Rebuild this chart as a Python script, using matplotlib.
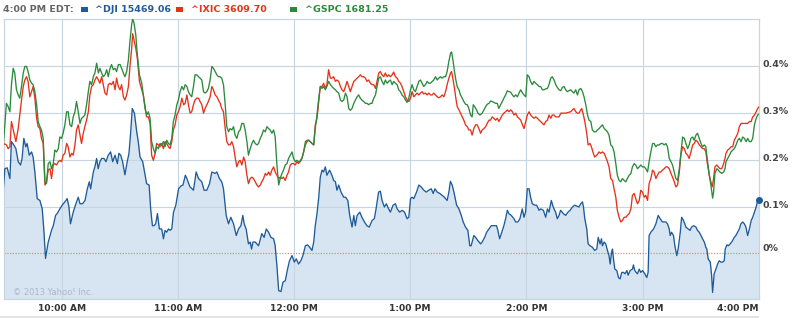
import matplotlib
matplotlib.use('Agg')
import matplotlib.pyplot as plt
from matplotlib.patches import Rectangle
import matplotlib.transforms as mtransforms

# ---------------- data (minutes after 9:30 ET, % change) ----------------
dji_t = [0, 0.7, 1.9, 3.3, 4.1, 5.3, 6.4, 7.6, 8.8, 9.6, 10.5, 11.5, 12.2, 13.3, 14.5, 15.3, 16.2,
         17.4, 18.8, 20.0, 20.8, 21.7, 23.1, 24.8, 25.7, 26.9, 27.7, 29.1, 30.3, 31.7, 32.9, 33.8,
         34.6, 36.0, 37.4, 38.6, 39.5, 40.8, 42.1, 43.3, 44.3, 45.0, 46.4, 47.2, 48.1, 48.9, 49.8,
         50.7, 51.9, 52.9, 54.1, 55.3, 56.4, 57.6, 58.8, 59.6, 60.5, 61.5, 62.7, 63.9, 64.8, 65.7,
         66.5, 67.6, 68.8, 69.6, 70.5, 71.9, 73.1, 73.9, 75.2, 76.0, 76.9, 77.7, 78.6, 79.5, 80.5,
         81.7, 82.6, 83.4, 84.3, 85.2, 86.0, 86.9, 87.8, 89.0, 90.4, 91.6, 92.7, 93.9, 94.7, 95.9,
         96.4, 98.1, 99.5, 100.7, 102.4, 103.6, 105.0, 106.4, 107.6, 109.3, 110.2, 111.5, 112.7,
         113.6, 115.0, 116.2, 117.4, 118.8, 120.2, 121.4, 122.6, 123.6, 124.3, 125.3, 126.5, 127.4,
         128.1, 128.8, 130.0, 131.7, 133.4, 134.6, 135.7, 136.9, 138.1, 139.5, 140.3, 141.2, 142.1,
         143.3, 144.3, 145.5, 146.7, 147.7, 149.0, 150.2, 151.2, 152.4, 153.6, 154.6, 155.9, 157.0,
         158.1, 159.3, 160.2, 161.0, 161.9, 162.8, 163.6, 164.5, 165.3, 166.2, 167.0, 168.4, 169.6,
         170.5, 171.4, 172.2, 173.1, 174.3, 175.7, 176.7, 177.8, 178.8, 179.5, 180.0, 180.9, 181.7,
         182.6, 184.0, 185.1, 186.4, 187.7, 188.9, 190.3, 191.5, 192.4, 193.7,
         194.6, 195.5, 196.7, 197.7, 198.9, 199.8, 201.2, 202.4, 203.3, 204.6, 205.9, 207.1, 208.4,
         209.3, 210.2, 211.0, 211.9, 213.3, 214.5, 215.7, 217.1, 218.3, 219.6, 220.9, 221.9, 222.8,
         224.0, 225.3, 226.5, 227.7, 229.1, 230.0, 230.8, 231.7, 232.6, 234.0, 235.2, 236.4, 237.4,
         238.6, 239.8, 240.8, 241.5, 242.9, 243.8, 245.0, 246.4, 247.2, 248.5, 249.5, 250.7, 251.9,
         253.3, 254.6, 255.3, 256.2, 257.1, 258.4, 259.3, 260.2, 261.0, 262.2, 263.6, 264.5, 265.6,
         266.7, 267.9, 268.8, 269.6, 270.5, 271.4, 272.2, 273.1, 274.3, 275.3, 276.6, 277.4, 278.8,
         280.0, 280.9, 281.7, 282.9, 283.9, 285.1, 286.0, 286.9, 287.7, 289.1, 290.3, 291.5, 292.6,
         293.8, 295.0, 296.0, 297.2, 298.1, 299.0, 299.5, 300.2, 301.2, 301.9, 302.9, 304.1, 305.3,
         306.4, 307.1, 308.1, 308.8, 309.3, 310.2, 311.0, 311.9, 312.7, 313.3, 314.0, 314.5, 315.0,
         315.7, 316.7, 317.6, 318.4, 319.3, 320.2, 321.0, 321.9, 322.6, 323.6, 324.8, 325.3, 326.0,
         326.7, 327.4, 328.3, 329.1, 330.0, 331.2, 332.2, 332.9, 333.4, 334.3, 335.7, 336.9, 338.1,
         339.1, 340.3, 342.1, 342.9, 343.8, 344.3, 345.0, 346.0, 346.7, 347.7, 348.4, 349.5, 350.2,
         351.2, 352.4, 353.6, 354.6, 355.3, 356.4, 357.6, 358.4, 359.3, 360.2, 361.0, 361.9, 362.7,
         363.2, 363.9, 365.0, 365.7, 366.2, 367.0, 367.9, 368.8, 369.6, 370.5, 371.4, 372.2, 372.7,
         373.6, 374.3, 375.3, 376.5, 377.4, 378.2, 379.1, 380.0, 380.8, 381.7, 382.6, 383.4, 384.3,
         385.2, 386.1, 386.9, 387.8, 388.7, 389.5, 390.0]
dji_pct = [0.142, 0.181, 0.183, 0.160, 0.239, 0.232, 0.224, 0.196, 0.189, 0.203, 0.246, 0.228, 0.235,
           0.210, 0.217, 0.206, 0.174, 0.117, 0.113, 0.095, 0.052, -0.011, 0.024, 0.049, 0.059, 0.081,
           0.085, 0.095, 0.103, 0.110, 0.117, 0.099, 0.063, 0.088, 0.106, 0.120, 0.106, 0.106, 0.113,
           0.138, 0.153, 0.138, 0.174, 0.185, 0.203, 0.181, 0.196, 0.203, 0.203, 0.196, 0.210, 0.217,
           0.196, 0.210, 0.192, 0.214, 0.210, 0.196, 0.168, 0.196, 0.214, 0.260, 0.310, 0.300, 0.260,
           0.239, 0.206, 0.196, 0.167, 0.149, 0.146, 0.095, 0.059, 0.059, 0.063, 0.085, 0.052, 0.052,
           0.031, 0.049, 0.045, 0.052, 0.049, 0.052, 0.088, 0.103, 0.138, 0.144, 0.146, 0.167, 0.160,
           0.146,
           0.142, 0.135, 0.174, 0.160, 0.153, 0.135, 0.135, 0.149, 0.174, 0.171, 0.174, 0.160, 0.153,
           0.138, 0.081, 0.063, 0.077, 0.063, 0.038, 0.052, 0.059, 0.081, 0.063, 0.052, 0.020, 0.024,
           0.009, 0.024, 0.024, 0.016, 0.042, 0.034, 0.052, 0.045, 0.034, 0.031, 0.016, -0.027, -0.080,
           -0.082, -0.062, -0.059, -0.034, -0.016, -0.005, -0.019, -0.012, -0.023, -0.016, -0.005, 0.016,
           0.018, 0.013, 0.006, 0.024, 0.059, 0.085, 0.120, 0.163, 0.178, 0.174, 0.185, 0.167, 0.178,
           0.167, 0.156, 0.153, 0.135, 0.146, 0.131, 0.120, 0.120, 0.113, 0.081, 0.067, 0.056, 0.081,
           0.059, 0.081, 0.088, 0.077, 0.067, 0.059, 0.056, 0.070, 0.074, 0.095, 0.131,
           0.133, 0.113, 0.099, 0.106, 0.095, 0.088, 0.103, 0.106, 0.095, 0.088, 0.092, 0.088, 0.074,
           0.077, 0.117, 0.120, 0.117, 0.131, 0.146, 0.142, 0.135, 0.131, 0.135, 0.138, 0.128, 0.138,
           0.131, 0.128, 0.124, 0.120, 0.113, 0.131, 0.154, 0.146, 0.131, 0.103, 0.095, 0.081, 0.067,
           0.056, 0.049, 0.016, 0.016, 0.038, 0.034, 0.027, 0.020, 0.024, 0.034, 0.045, 0.052, 0.059,
           0.059, 0.059, 0.049, 0.031, 0.042, 0.059, 0.074, 0.092, 0.085, 0.081, 0.074, 0.067, 0.067,
           0.074, 0.095, 0.077, 0.088, 0.138, 0.138, 0.120, 0.106, 0.103, 0.103, 0.092, 0.095, 0.092,
           0.077, 0.095, 0.088, 0.113, 0.099, 0.088, 0.074, 0.081, 0.092, 0.085, 0.081, 0.088, 0.092,
           0.099, 0.103, 0.101, 0.099, 0.106, 0.110, 0.099, 0.074, 0.052, 0.020, 0.016, 0.013, 0.006,
           0.009, 0.034, 0.020, 0.031, 0.016, 0.024, 0.020, 0.006, -0.005, -0.023, 0.002, 0.009, -0.012,
           -0.034, -0.037, -0.052, -0.055, -0.041, -0.041, -0.044, -0.037, -0.047, -0.037, -0.034, -0.025, -0.037,
           -0.041, -0.044, -0.034, -0.041, -0.037, -0.044, -0.052, -0.041, 0.038, 0.045, 0.052, 0.063, 0.081,
           0.074, 0.067, 0.067, 0.063, 0.052, 0.038, 0.045, 0.038, 0.016, -0.005, 0.009, 0.045, 0.077,
           0.070, 0.056, 0.052, 0.049, 0.056, 0.059, 0.056, 0.049, 0.045, 0.038, 0.031, 0.024, 0.013,
           0.009, -0.012, -0.019, -0.048, -0.084, -0.044, -0.034, -0.023, -0.016, -0.019, -0.019, -0.016, 0.009,
           0.018, 0.016, 0.020, 0.027, 0.034, 0.038, 0.045, 0.052, 0.063, 0.067, 0.063, 0.056, 0.038,
           0.052, 0.070, 0.077, 0.088, 0.099, 0.113, 0.113]

ixic_t = [0, 1.5, 2.4, 3.3, 4.1, 5.3, 6.4, 7.6, 8.4, 9.3, 10.2, 11.0, 11.9, 12.7, 13.6, 14.5, 15.3,
          16.2, 17.1, 17.9, 18.8, 19.6, 20.5, 21.4, 22.2, 23.1, 24.0, 24.8, 25.7, 26.5, 27.4, 28.3,
          29.1, 30.0, 30.8, 31.7, 32.6, 33.4, 34.3, 35.2, 36.0, 36.9, 37.7, 38.6, 39.5, 40.3, 41.2,
          42.0, 42.9, 43.8, 44.6, 45.5, 46.4, 47.2, 48.1, 49.0, 49.8, 50.7, 51.5, 52.4, 53.3, 54.1,
          55.0, 55.8, 56.7, 57.6, 58.4, 59.3, 60.2, 61.0, 61.9, 62.7, 63.6, 64.5, 65.3, 66.2, 66.7,
          67.4, 68.3, 69.1, 70.2, 71.4, 72.2, 73.1, 73.9, 74.8, 75.7, 76.5, 77.4, 78.3, 79.1, 80.0,
          80.8, 81.7, 82.6, 83.4, 84.3, 85.2, 86.0, 86.9, 87.7, 88.6, 89.5, 90.3, 91.2, 92.1, 93.0,
          93.8, 94.7, 95.5,
          96.4, 97.2, 98.1, 98.9, 99.8, 100.7, 101.5, 102.4, 103.3, 104.1, 105.0, 105.8, 106.7, 107.6,
          108.4, 109.3, 110.2, 111.0, 111.9, 112.7, 113.6, 114.5, 115.3, 116.2, 117.0, 117.9, 118.8,
          119.6, 120.5, 121.4, 122.2, 123.1, 124.0, 124.8, 125.7, 126.5, 127.4, 128.3, 129.1, 130.0,
          130.9, 131.7, 132.6, 133.4, 134.3, 135.2, 136.0, 136.9, 137.7, 138.6, 139.5, 140.3, 141.2,
          142.1, 142.9, 143.8, 144.6, 145.5, 146.4, 147.2, 148.1, 149.0, 149.8, 150.7, 151.5, 152.4,
          153.3, 154.1, 155.0, 155.9, 156.7, 157.6, 158.4, 159.3, 160.2, 161.0, 161.9, 162.8, 163.6,
          164.5, 165.3, 166.2, 167.0, 167.9, 168.8, 169.6, 170.5, 171.4, 172.2, 173.1, 174.0, 174.8,
          175.7, 176.6, 177.4, 178.3, 179.1, 180.0, 180.9, 181.7, 182.6, 183.4, 184.3, 185.1, 186.0,
          186.9, 187.7, 188.6, 189.5, 190.3, 191.2, 192.1, 192.9, 193.8,
          194.6, 195.5, 196.4, 197.2, 198.1, 198.9, 199.8, 200.7, 201.5, 202.4, 203.3, 204.1, 205.0,
          205.8, 206.7, 207.6, 208.4, 209.3, 210.2, 211.0, 211.9, 212.7, 213.6, 214.5, 215.3, 216.2,
          217.0, 217.9, 218.8, 219.6, 220.5, 221.4, 222.2, 223.1, 224.0, 224.8, 225.7, 226.5, 227.4,
          228.3, 229.1, 230.0, 230.9, 231.4, 232.2, 232.9, 233.6, 234.3, 235.2, 236.0, 236.9, 237.7,
          238.6, 239.5, 240.3, 241.2, 242.0, 242.9, 243.8, 244.6, 245.5, 246.4, 247.2, 248.1, 249.0,
          249.8, 250.7, 251.5, 252.4, 253.2, 254.1, 255.0, 255.8, 256.7, 257.6, 258.4, 259.3, 260.2,
          261.0, 261.9, 262.8, 263.6, 264.5, 265.4, 266.2, 267.1, 268.0, 268.8, 269.7, 270.5, 271.4,
          272.2, 273.1, 274.0, 274.8, 275.7, 276.6, 277.4, 278.3, 279.1, 280.0, 280.9, 281.7, 282.6,
          283.4, 284.3, 285.2, 286.0, 286.9, 287.8, 288.6, 289.5, 290.3, 291.2, 292.1,
          292.9, 293.8, 294.6, 295.5, 296.4, 297.2, 298.1, 298.6, 299.5, 300.2, 301.2, 301.9, 302.9,
          303.6, 304.6, 305.3, 306.4, 307.6, 308.4, 309.3, 310.2, 311.0, 311.9, 312.7, 313.6, 314.5,
          315.3, 316.2, 317.0, 317.9, 318.8, 319.6, 320.5, 321.4, 322.2, 323.1, 324.0, 324.8, 325.7,
          326.5, 327.4, 328.3, 329.1, 330.0, 330.9, 331.7, 332.6, 333.4, 334.3, 335.2, 336.0, 336.9,
          337.7, 338.6, 339.5, 340.3, 341.2, 342.1, 342.9, 343.8, 344.7, 345.5, 346.4, 347.2, 348.1,
          349.0, 349.8, 350.7, 351.6, 352.4, 353.3, 354.1, 355.0, 355.9, 356.7, 357.6, 358.4, 359.3,
          360.2, 361.0, 361.9, 362.7, 363.6, 364.5, 365.3, 366.0, 366.7, 367.4, 368.4, 369.1, 370.0,
          370.9, 371.9, 372.6, 373.1, 374.0, 374.9, 375.7, 376.6, 377.4, 378.3, 379.2, 380.0, 380.9,
          381.7, 382.6, 383.5, 384.3, 385.2, 386.1, 386.9, 387.8, 388.7, 389.5, 390.0]
ixic_pct = [0.235, 0.232, 0.224, 0.228, 0.282, 0.260, 0.239, 0.267, 0.296, 0.328, 0.357, 0.371, 0.378,
            0.368, 0.335, 0.346, 0.357, 0.332, 0.289, 0.271, 0.267, 0.246, 0.235, 0.146, 0.153, 0.178,
            0.181, 0.160, 0.189, 0.192, 0.189, 0.196, 0.199, 0.196, 0.210, 0.214, 0.235, 0.228, 0.206,
            0.214, 0.210, 0.232, 0.264, 0.275, 0.253, 0.235, 0.257, 0.271, 0.285, 0.303, 0.339, 0.357,
            0.361, 0.371, 0.378, 0.371, 0.364, 0.378, 0.361, 0.343, 0.339, 0.361, 0.364, 0.361, 0.368,
            0.350, 0.375, 0.357, 0.350, 0.361, 0.335, 0.328, 0.339, 0.357, 0.400, 0.439, 0.470, 0.457,
            0.439, 0.418, 0.368, 0.350, 0.339, 0.314, 0.292, 0.292, 0.278, 0.210, 0.199, 0.214, 0.235,
            0.232, 0.228, 0.235, 0.224, 0.239, 0.235, 0.228, 0.224, 0.239, 0.264, 0.275, 0.296, 0.303,
            0.314, 0.332, 0.318, 0.321, 0.339, 0.318,
            0.300, 0.303, 0.318, 0.328, 0.332, 0.332, 0.325, 0.318, 0.300, 0.310, 0.318, 0.325, 0.335,
            0.357, 0.350, 0.339, 0.335, 0.328, 0.321, 0.310, 0.303, 0.267, 0.239, 0.232, 0.232, 0.239,
            0.228, 0.206, 0.185, 0.196, 0.199, 0.189, 0.206, 0.196, 0.167, 0.149, 0.160, 0.163, 0.160,
            0.153, 0.146, 0.142, 0.146, 0.153, 0.160, 0.171, 0.167, 0.174, 0.167, 0.178, 0.185, 0.174,
            0.167, 0.160, 0.163, 0.160, 0.163, 0.156, 0.167, 0.174, 0.189, 0.192, 0.192, 0.189, 0.196,
            0.192, 0.199, 0.203, 0.217, 0.232, 0.239, 0.242, 0.239, 0.235, 0.232, 0.275, 0.289, 0.325,
            0.357, 0.357, 0.364, 0.353, 0.361, 0.393, 0.375, 0.375, 0.378, 0.368, 0.371, 0.368, 0.357,
            0.350, 0.346, 0.357, 0.368, 0.357, 0.346, 0.357, 0.368, 0.371, 0.375, 0.378, 0.382, 0.378,
            0.378, 0.375, 0.368, 0.371, 0.364, 0.361, 0.361, 0.353, 0.368, 0.386,
            0.389, 0.382, 0.378, 0.386, 0.378, 0.382, 0.378, 0.382, 0.388, 0.378, 0.375, 0.368, 0.364,
            0.357, 0.346, 0.335, 0.328, 0.325, 0.332, 0.346, 0.335, 0.339, 0.343, 0.339, 0.343, 0.346,
            0.341, 0.343, 0.339, 0.343, 0.339, 0.339, 0.343, 0.339, 0.335, 0.333, 0.335, 0.339, 0.335,
            0.346, 0.361, 0.375, 0.386, 0.389, 0.371, 0.353, 0.332, 0.314, 0.307, 0.300, 0.292, 0.285,
            0.275, 0.271, 0.264, 0.264, 0.253, 0.267, 0.275, 0.275, 0.267, 0.257, 0.264, 0.267, 0.271,
            0.278, 0.285, 0.285, 0.292, 0.289, 0.285, 0.289, 0.282, 0.289, 0.296, 0.300, 0.303, 0.307,
            0.303, 0.307, 0.303, 0.296, 0.300, 0.292, 0.289, 0.285, 0.275, 0.267, 0.282, 0.296, 0.303,
            0.296, 0.292, 0.289, 0.292, 0.289, 0.285, 0.282, 0.278, 0.275, 0.282, 0.285, 0.296, 0.289,
            0.296, 0.296, 0.292, 0.292, 0.292, 0.300, 0.300, 0.300, 0.300, 0.301, 0.302,
            0.303, 0.307, 0.310, 0.303, 0.300, 0.300, 0.307, 0.310, 0.296, 0.282, 0.257, 0.232, 0.235,
            0.228, 0.214, 0.206, 0.210, 0.217, 0.214, 0.217, 0.214, 0.206, 0.196, 0.185, 0.160, 0.156,
            0.138, 0.120, 0.092, 0.077, 0.067, 0.070, 0.077, 0.077, 0.081, 0.085, 0.095, 0.124, 0.128,
            0.117, 0.106, 0.113, 0.135, 0.131, 0.120, 0.124, 0.113, 0.149, 0.160, 0.178, 0.174, 0.160,
            0.167, 0.174, 0.174, 0.178, 0.181, 0.185, 0.185, 0.181, 0.171, 0.163, 0.153, 0.142, 0.146,
            0.174, 0.210, 0.228, 0.224, 0.214, 0.210, 0.203, 0.217, 0.232, 0.235, 0.242, 0.239, 0.232,
            0.228, 0.224, 0.224, 0.217, 0.189, 0.167, 0.153, 0.142, 0.160, 0.185, 0.189, 0.185, 0.181,
            0.181, 0.192, 0.203, 0.214, 0.221, 0.224, 0.228, 0.228, 0.242, 0.249, 0.257, 0.271, 0.278,
            0.278, 0.278, 0.278, 0.278, 0.282, 0.282, 0.292, 0.296, 0.303, 0.310, 0.313]

gspc_t = [0, 0.7, 1.5, 2.4, 3.3, 4.1, 5.0, 5.8, 6.7, 7.6, 8.4, 9.3, 10.2, 11.0, 11.9, 12.7, 13.6,
          14.5, 15.3, 16.2, 17.1, 17.9, 18.8, 19.6, 20.5, 21.4, 22.2, 23.1, 24.0, 24.8, 25.7, 26.5,
          27.4, 28.3, 29.1, 30.0, 30.8, 31.7, 32.6, 33.4, 34.3, 35.2, 36.0, 36.9, 37.7, 38.6, 39.5,
          40.3, 41.2, 42.0, 42.9, 43.8, 44.6, 45.5, 46.4, 47.2, 48.1, 49.0, 49.8, 50.7, 51.5, 52.4,
          53.3, 54.1, 55.0, 55.8, 56.7, 57.6, 58.4, 59.3, 60.2, 61.0, 61.9, 62.7, 63.6, 64.5, 65.3,
          66.2, 66.7, 67.4, 68.3, 69.1, 70.2, 71.4, 72.2, 73.1, 73.9, 74.8, 75.7, 76.5, 77.4, 78.3,
          79.1, 80.0, 80.8, 81.7, 82.6, 83.4, 84.3, 85.2, 86.0, 86.9, 87.7, 88.6, 89.5, 90.3, 91.2,
          92.1, 93.0, 93.8, 94.7, 95.5,
          96.4, 97.2, 98.1, 98.9, 99.8, 100.7, 101.5, 102.4, 103.3, 104.1, 105.0, 105.8, 106.7, 107.6,
          108.4, 109.3, 110.2, 111.0, 111.9, 112.7, 113.6, 114.5, 115.3, 116.2, 117.0, 117.9, 118.8,
          119.6, 120.5, 121.4, 122.2, 123.1, 124.0, 124.8, 125.7, 126.5, 127.4, 128.3, 129.1, 130.0,
          130.9, 131.7, 132.6, 133.4, 134.3, 135.2, 136.0, 136.9, 137.7, 138.6, 139.5, 140.3, 141.2,
          142.1, 142.9, 143.8, 144.6, 145.5, 146.4, 147.2, 148.1, 149.0, 149.8, 150.7, 151.5, 152.4,
          153.3, 154.1, 155.0, 155.9, 156.7, 157.6, 158.4, 159.3, 160.2, 161.0, 161.9, 162.8, 163.6,
          164.5, 165.3, 166.2, 167.0, 167.9, 168.8, 169.6, 170.5, 171.4, 172.2, 173.1, 174.0, 174.8,
          175.7, 176.6, 177.4, 178.3, 179.1, 180.0, 180.9, 181.7, 182.6, 183.4, 184.3, 185.1, 186.0,
          186.9, 187.7, 188.6, 189.5, 190.3, 191.2, 192.1, 192.9, 193.8,
          194.6, 195.5, 196.4, 197.2, 198.1, 198.9, 199.8, 200.7, 201.5, 202.4, 203.3, 204.1, 205.0,
          205.8, 206.7, 207.6, 208.4, 209.3, 210.2, 211.0, 211.9, 212.7, 213.6, 214.5, 215.3, 216.2,
          217.0, 217.9, 218.8, 219.6, 220.5, 221.4, 222.2, 223.1, 224.0, 224.8, 225.7, 226.5, 227.4,
          228.3, 229.1, 230.0, 230.9, 231.4, 232.2, 232.9, 233.6, 234.3, 235.2, 236.0, 236.9, 237.7,
          238.6, 239.5, 240.3, 241.2, 242.0, 242.6, 243.3, 244.3, 245.0, 246.0, 247.2, 248.1, 249.0,
          249.8, 250.7, 251.5, 252.4, 253.2, 254.1, 255.0, 255.8, 256.7, 257.6, 258.4, 259.3, 260.2,
          261.0, 261.9, 262.8, 263.6, 264.5, 265.4, 266.2, 267.1, 268.0, 268.8, 269.7, 270.5, 271.4,
          272.2, 273.1, 274.0, 274.8, 275.7, 276.6, 277.4, 278.3, 279.1, 280.0, 280.9, 281.7, 282.6,
          283.4, 284.3, 285.2, 286.0, 286.9, 287.8, 288.6, 289.5, 290.3, 291.2, 292.1,
          292.9, 293.8, 294.6, 295.5, 296.4, 297.2, 298.1, 299.0, 299.8, 300.7, 301.6, 302.4, 303.3,
          304.1, 305.0, 305.9, 306.7, 307.6, 308.4, 309.3, 310.2, 311.0, 311.9, 312.7, 313.6, 314.5,
          315.3, 316.2, 317.0, 317.9, 318.8, 319.6, 320.5, 321.4, 322.2, 323.1, 324.0, 324.8, 325.7,
          326.5, 327.4, 328.3, 329.1, 330.0, 330.9, 331.7, 332.6, 333.4, 334.3, 335.2, 336.0, 336.9,
          337.7, 338.6, 339.5, 340.3, 341.2, 342.1, 342.9, 343.8, 344.7, 345.5, 346.4, 347.2, 348.1,
          349.0, 349.8, 350.7, 351.6, 352.4, 353.3, 354.1, 355.0, 355.9, 356.7, 357.6, 358.4, 359.3,
          360.2, 361.0, 361.9, 362.7, 363.6, 364.5, 365.3, 366.2, 366.7, 367.4, 368.4, 369.1, 370.0,
          370.9, 371.9, 372.6, 373.1, 374.0, 374.9, 375.7, 376.6, 377.4, 378.3, 379.2, 380.0, 380.9,
          381.7, 382.6, 383.5, 384.3, 385.2, 386.1, 386.9, 387.8, 388.7, 389.5, 390.0]
gspc_pct = [0.239, 0.275, 0.321, 0.314, 0.303, 0.361, 0.396, 0.386, 0.350, 0.339, 0.332, 0.357, 0.386,
            0.400, 0.400, 0.389, 0.371, 0.364, 0.361, 0.346, 0.318, 0.282, 0.271, 0.264, 0.246, 0.153,
            0.149, 0.192, 0.196, 0.181, 0.192, 0.221, 0.217, 0.224, 0.249, 0.246, 0.257, 0.275, 0.303,
            0.303, 0.275, 0.271, 0.292, 0.303, 0.325, 0.303, 0.278, 0.289, 0.292, 0.296, 0.318, 0.346,
            0.368, 0.361, 0.378, 0.386, 0.407, 0.386, 0.396, 0.386, 0.378, 0.382, 0.393, 0.378, 0.396,
            0.404, 0.393, 0.396, 0.389, 0.404, 0.404, 0.396, 0.386, 0.378, 0.389, 0.414, 0.454, 0.490,
            0.502, 0.493, 0.468, 0.425, 0.382, 0.364, 0.339, 0.310, 0.296, 0.303, 0.289, 0.239, 0.224,
            0.214, 0.228, 0.224, 0.235, 0.232, 0.239, 0.228, 0.242, 0.235, 0.232, 0.246, 0.282, 0.296,
            0.318, 0.328, 0.346, 0.357, 0.350, 0.361, 0.357, 0.346,
            0.339, 0.335, 0.357, 0.382, 0.382, 0.378, 0.375, 0.371, 0.346, 0.343, 0.346, 0.353, 0.371,
            0.400, 0.396, 0.389, 0.382, 0.378, 0.378, 0.375, 0.361, 0.318, 0.271, 0.260, 0.267, 0.264,
            0.271, 0.253, 0.246, 0.260, 0.264, 0.278, 0.278, 0.264, 0.239, 0.210, 0.224, 0.235, 0.242,
            0.235, 0.232, 0.235, 0.246, 0.253, 0.264, 0.260, 0.271, 0.267, 0.264, 0.257, 0.264, 0.249,
            0.189, 0.146, 0.160, 0.171, 0.178, 0.189, 0.192, 0.203, 0.210, 0.217, 0.203, 0.196, 0.199,
            0.196, 0.196, 0.203, 0.217, 0.239, 0.242, 0.242, 0.239, 0.235, 0.232, 0.267, 0.296, 0.332,
            0.357, 0.353, 0.357, 0.350, 0.357, 0.368, 0.361, 0.357, 0.353, 0.350, 0.346, 0.343, 0.328,
            0.325, 0.328, 0.343, 0.335, 0.310, 0.306, 0.310, 0.321, 0.328, 0.335, 0.339, 0.332, 0.328,
            0.325, 0.321, 0.321, 0.318, 0.321, 0.321, 0.332, 0.339, 0.357, 0.375,
            0.378, 0.368, 0.361, 0.371, 0.364, 0.368, 0.371, 0.361, 0.368, 0.364, 0.361, 0.350, 0.346,
            0.339, 0.335, 0.328, 0.323, 0.332, 0.350, 0.361, 0.350, 0.346, 0.357, 0.368, 0.371, 0.364,
            0.357, 0.361, 0.368, 0.364, 0.364, 0.368, 0.371, 0.378, 0.371, 0.375, 0.378, 0.375, 0.378,
            0.378, 0.389, 0.411, 0.429, 0.431, 0.411, 0.389, 0.371, 0.357, 0.350, 0.339, 0.332, 0.325,
            0.319, 0.318, 0.310, 0.296, 0.292, 0.318, 0.314, 0.307, 0.300, 0.296, 0.300, 0.307, 0.314,
            0.319, 0.321, 0.326, 0.325, 0.323, 0.321, 0.321, 0.310, 0.318, 0.325, 0.332, 0.339, 0.348,
            0.346, 0.345, 0.339, 0.335, 0.339, 0.335, 0.343, 0.350, 0.343, 0.339, 0.335, 0.382, 0.378,
            0.368, 0.361, 0.368, 0.364, 0.361, 0.357, 0.357, 0.350, 0.350, 0.352, 0.353, 0.361, 0.375,
            0.378, 0.371, 0.361, 0.355, 0.350, 0.348, 0.355, 0.357, 0.350, 0.346, 0.348,
            0.350, 0.346, 0.343, 0.350, 0.339, 0.350, 0.353, 0.346, 0.335, 0.318, 0.296, 0.285, 0.282,
            0.264, 0.260, 0.260, 0.264, 0.267, 0.271, 0.275, 0.267, 0.264, 0.260, 0.253, 0.232, 0.228,
            0.217, 0.192, 0.167, 0.156, 0.153, 0.160, 0.156, 0.153, 0.160, 0.167, 0.171, 0.185, 0.192,
            0.189, 0.181, 0.185, 0.189, 0.185, 0.185, 0.181, 0.174, 0.196, 0.217, 0.235, 0.235, 0.228,
            0.232, 0.232, 0.235, 0.235, 0.232, 0.235, 0.228, 0.203, 0.196, 0.189, 0.174, 0.160, 0.156,
            0.181, 0.214, 0.249, 0.246, 0.235, 0.224, 0.232, 0.246, 0.249, 0.242, 0.253, 0.257, 0.246,
            0.235, 0.228, 0.232, 0.228, 0.196, 0.167, 0.146, 0.118, 0.131, 0.171, 0.181, 0.178, 0.174,
            0.171, 0.174, 0.181, 0.196, 0.203, 0.210, 0.217, 0.221, 0.224, 0.232, 0.242, 0.246, 0.239,
            0.249, 0.246, 0.239, 0.246, 0.239, 0.239, 0.246, 0.275, 0.289, 0.296, 0.298]

hour_ticks = [30, 90, 150, 210, 270, 330, 390]
hour_labels = ['10:00 AM', '11:00 AM', '12:00 PM', '1:00 PM', '2:00 PM', '3:00 PM', '4:00 PM']
pct_ticks = [0.0, 0.1, 0.2, 0.3, 0.4]
pct_labels = ['0%', '0.1%', '0.2%', '0.3%', '0.4%']
legend_names = ['^DJI 15469.06', '^IXIC 3609.70', '^GSPC 1681.25']

# ---------------- styling ----------------
C_DJI, C_IXIC, C_GSPC = '#1f5b99', '#e5321b', '#2b8a3c'
C_FILL = '#d6e5f1'
C_GRID = '#c6d5e0'
W, H = 794, 318
Y0, Y1 = -0.0986, 0.5016

fig = plt.figure(figsize=(W / 100, H / 100), dpi=100)
fig.patch.set_facecolor('white')
ax = fig.add_axes([3.5 / W, 1 - 299.3 / H, (758.7 - 3.5) / W, (299.3 - 19.0) / H])
ax.set_xlim(0, 390)
ax.set_ylim(Y0, Y1)

ax.fill_between(dji_t, dji_pct, Y0, color=C_FILL, lw=0, zorder=1)
for v in pct_ticks[1:]:
    ax.axhline(v, color=C_GRID, lw=0.8, zorder=2)
for t in hour_ticks[:-1]:
    ax.axvline(t, color=C_GRID, lw=0.8, zorder=2)
ax.axhline(0, color='#d49484', lw=0.9, ls=(0, (1, 1.2)), zorder=2)

ax.plot(ixic_t, ixic_pct, color=C_IXIC, lw=0.95, zorder=4)
ax.plot(gspc_t, gspc_pct, color=C_GSPC, lw=0.95, zorder=4)
ax.plot(dji_t, dji_pct, color=C_DJI, lw=0.95, zorder=5)
ax.plot([dji_t[-1]], [dji_pct[-1]], 'o', color=C_DJI, ms=4, clip_on=False, zorder=6)

for s in ax.spines.values():
    s.set_color(C_GRID)
    s.set_linewidth(0.9)

ax.set_yticks([])
ax.set_xticks(hour_ticks)
ax.set_xticklabels(hour_labels)
ax.tick_params(axis='x', length=0, pad=3.5, labelsize=6.6, labelcolor='#333333')
for lab in ax.get_xticklabels():
    lab.set_fontweight('bold')
ax.get_xticklabels()[-1].set_horizontalalignment('right')

# right-hand percentage labels
ytr = ax.get_yaxis_transform()
for v, s in zip(pct_ticks, pct_labels):
    dy = 5 if v == 0 else 1.5
    tr = mtransforms.offset_copy(ytr, fig=fig, x=3.5, y=dy, units='dots')
    ax.text(1.0, v, s, transform=tr, ha='left', va='center', fontsize=6.8,
            fontweight='bold', color='#444444', clip_on=False)

ax.text(5, Y0, '\u00a9 2013 Yahoo! Inc.', transform=mtransforms.offset_copy(
    ax.transData, fig=fig, x=0, y=6.5, units='dots'), fontsize=6, color='#aab8c4',
    ha='left', va='center', zorder=7)

# header
def fx(px):
    return px / W

def fy(py):
    return 1 - py / H

fig.text(fx(3), fy(9.5), '4:00 PM EDT:', fontsize=6.8, fontweight='bold', color='#666666',
         ha='left', va='center')
for (sq_x, tx_x), col, name in zip([(81, 95), (176, 191), (290, 305)],
                                   [C_DJI, C_IXIC, C_GSPC], legend_names):
    fig.patches.append(Rectangle((fx(sq_x), fy(11.5)), 7 / W, 5 / H, transform=fig.transFigure,
                                 color=col, lw=0))
    fig.text(fx(tx_x), fy(9.5), name, fontsize=6.8, fontweight='bold', color=col,
             ha='left', va='center')

# gray strip at the very bottom
fig.patches.append(Rectangle((0, 0), 758.7 / W, 1.8 / H, transform=fig.transFigure,
                             color='#e2e2e2', lw=0))

fig.savefig('out.png', dpi=100)
